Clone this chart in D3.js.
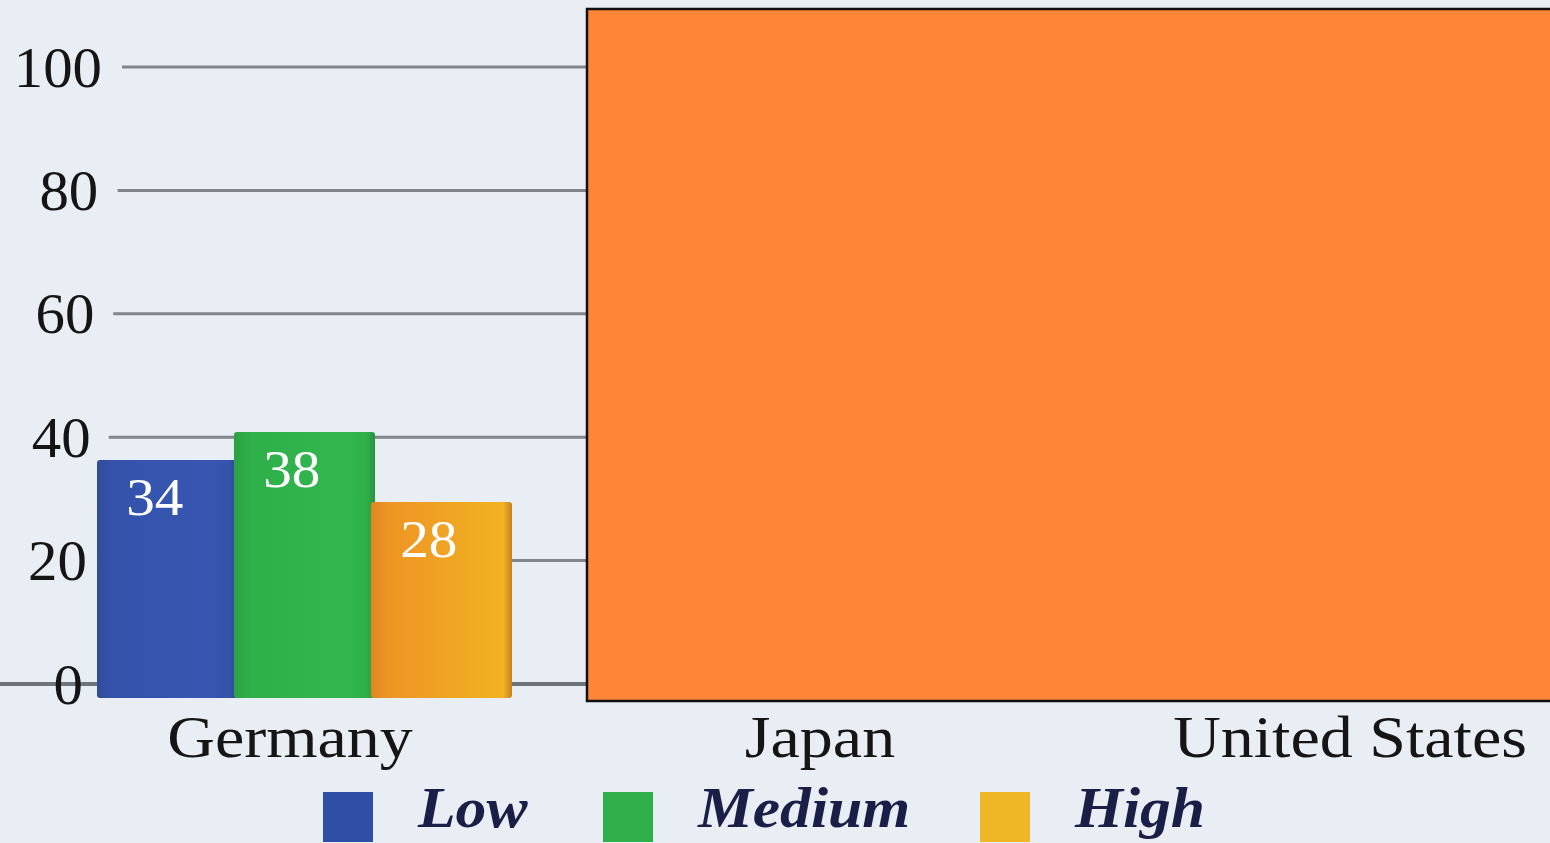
<!DOCTYPE html>
<html><head><meta charset="utf-8">
<script src="https://cdn.jsdelivr.net/npm/d3@7"></script>
<style>html,body{margin:0;padding:0;background:#e9eef5;overflow:hidden}</style>
</head><body>
<svg id="c" width="1550" height="843"></svg>
<script>
const categories = ["Germany", "Japan", "United States"];
const seriesNames = ["Low", "Medium", "High"];
const lowValues = [34, null, null];
const mediumValues = [38, null, null];
const highValues = [28, null, null];
const yTicks = [0, 20, 40, 60, 80, 100];
const colors = {Low: "#3453ab", Medium: "#2fb04a", High: "#ee9524"};
const legendColors = {Low: "#2f4ea5", Medium: "#2fae4a", High: "#efb726"};

const svg = d3.select("#c");
const W = 1550, H = 843;
svg.append("rect").attr("width", W).attr("height", H).attr("fill", "#e9eef5");

const x = d3.scaleBand().domain(categories).range([25, 1615]);
const y = d3.scaleLinear().domain([0, 100]).range([684, 67]);
// front face of the 3-D bars (perspective)
const yBar = d3.scaleLinear().domain([0, 100]).range([698, -2]);
const xs = d3.scaleBand().domain(seriesNames).range([72, 487]).paddingInner(-0.03);
const serif = "Liberation Serif, serif";

// grid (slight perspective: left end and labels drift with height)
const grid = svg.append("g");
grid.selectAll("line").data(yTicks).join("line")
  .attr("x1", d => d === 0 ? 0 : 100 + 0.22 * d).attr("x2", W)
  .attr("y1", d => y(d)).attr("y2", d => y(d))
  .attr("stroke", d => d === 0 ? "#6f757c" : "#80868c")
  .attr("stroke-width", d => d === 0 ? 4 : 3);

// y axis labels
const yAxis = d3.axisLeft(y).tickValues(yTicks).tickSize(0).tickPadding(0);
const ga = svg.append("g").call(yAxis);
ga.select(".domain").remove();
ga.selectAll(".tick text")
  .attr("x", 0).attr("dy", "0.34em")
  .attr("transform", d => `translate(${83 + 0.19 * d},0) scale(1.05,1)`)
  .attr("font-family", serif).attr("font-size", 56).attr("fill", "#151515");

// bars
const data = categories.map((c, i) => ({c, vals: [
  {s: "Low", v: lowValues[i]}, {s: "Medium", v: mediumValues[i]}, {s: "High", v: highValues[i]}]}));
const defs = svg.append("defs");
seriesNames.forEach(s => {
  const g = defs.append("linearGradient").attr("id", "g" + s);
  const base = d3.color(colors[s]);
  g.append("stop").attr("offset", "0%").attr("stop-color", base.darker(0.25));
  g.append("stop").attr("offset", "12%").attr("stop-color", base);
  g.append("stop").attr("offset", "80%").attr("stop-color", s === "High" ? "#f0ad22" : base.brighter(0.1));
  g.append("stop").attr("offset", "94%").attr("stop-color", s === "High" ? "#f1b323" : base);
  g.append("stop").attr("offset", "100%").attr("stop-color", base.darker(0.5));
});
const groups = svg.selectAll(".grp").data(data).join("g")
  .attr("transform", d => `translate(${x(d.c)},0)`);
const bars = groups.selectAll(".bar").data(d => d.vals.filter(v => v.v != null)).join("g");
bars.append("rect")
  .attr("x", d => xs(d.s)).attr("width", xs.bandwidth())
  .attr("y", d => yBar(d.v)).attr("height", d => yBar(0) - yBar(d.v))
  .attr("fill", d => `url(#g${d.s})`).attr("rx", 3);
bars.append("text")
  .attr("transform", d => `translate(${xs(d.s) + xs.bandwidth() * 0.41},${yBar(d.v) + 55}) scale(1.1,1)`)
  .attr("text-anchor", "middle")
  .attr("font-family", serif).attr("font-size", 52)
  .attr("fill", "#ffffff").text(d => d.v);

// x axis labels
const xAxis = d3.axisBottom(x).tickSize(0).tickPadding(0);
const gx = svg.append("g").attr("transform", "translate(0,757)").call(xAxis);
gx.select(".domain").remove();
gx.selectAll(".tick text").attr("y", 0).attr("dy", 0)
  .attr("transform", "scale(1.1,1)")
  .attr("font-family", serif).attr("font-size", 60).attr("fill", "#151515");

// cover box
svg.append("rect").attr("x", 587).attr("y", 9).attr("width", 975).attr("height", 692)
  .attr("fill", "#ff8636").attr("stroke", "#111").attr("stroke-width", 2.5);

// legend
const legendX = [323, 603, 980];
const leg = svg.selectAll(".leg").data(seriesNames).join("g")
  .attr("transform", (d, i) => `translate(${legendX[i]},792)`);
leg.append("rect").attr("width", 50).attr("height", 50).attr("fill", d => legendColors[d]);
leg.append("text")
  .attr("transform", "translate(95,35) scale(1.1,1)")
  .attr("font-family", serif).attr("font-size", 56)
  .attr("font-style", "italic").attr("font-weight", "bold")
  .attr("fill", "#1b1f48").text(d => d);
</script>
</body></html>
